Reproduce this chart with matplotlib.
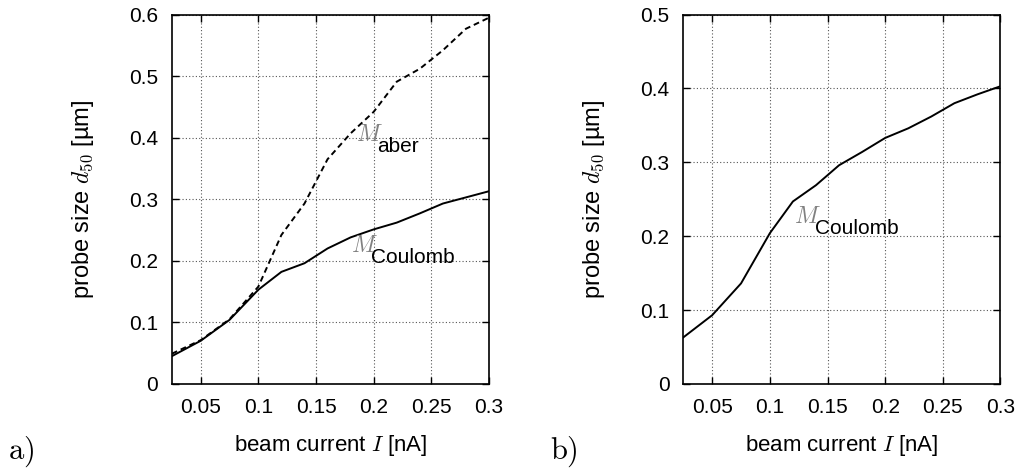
import matplotlib.pyplot as plt
import numpy as np

plt.rcParams['font.family'] = ['Liberation Sans', 'DejaVu Sans']
plt.rcParams['mathtext.fontset'] = 'cm'

# beam current I [nA]
current = [0.025, 0.05, 0.075, 0.1, 0.12, 0.14, 0.16, 0.18, 0.2, 0.22, 0.24, 0.26, 0.28, 0.3]

# panel a) probe size d50 [um]
coulomb_a = [0.045, 0.070, 0.104, 0.153, 0.182, 0.196, 0.220, 0.238, 0.251, 0.262, 0.277, 0.293, 0.303, 0.313]
aber_a = [0.049, 0.071, 0.105, 0.158, 0.242, 0.293, 0.365, 0.407, 0.442, 0.491, 0.512, 0.542, 0.577, 0.595]

# panel b) probe size d50 [um]
coulomb_b = [0.063, 0.093, 0.136, 0.204, 0.247, 0.269, 0.296, 0.314, 0.333, 0.346, 0.362, 0.380, 0.392, 0.403]

xticks = [0.05, 0.1, 0.15, 0.2, 0.25, 0.3]
xtick_labels = ['0.05', '0.1', '0.15', '0.2', '0.25', '0.3']

fig = plt.figure(figsize=(10.23, 4.71), dpi=100)
ax_a = fig.add_axes([0.168, 0.185, 0.310, 0.784])
ax_b = fig.add_axes([0.668, 0.185, 0.310, 0.784])


def style_axes(ax, ymax):
    ax.set_xlim(0.025, 0.3)
    ax.set_ylim(0, ymax)
    ax.set_xticks(xticks)
    ax.set_xticklabels(xtick_labels)
    yt = np.arange(0, ymax + 0.001, 0.1)
    ax.set_yticks(yt)
    ax.set_yticklabels(['%g' % round(v, 1) for v in yt])
    ax.tick_params(direction='in', length=5, width=1, labelsize=15, pad=10,
                   top=True, right=True)
    ax.grid(True, linestyle=(0, (1, 2)), color='#555555', linewidth=0.8)
    for s in ax.spines.values():
        s.set_linewidth(1.2)
    ax.set_xlabel('beam current $I$ [nA]', fontsize=16, labelpad=12)
    ax.set_ylabel('probe size $d_{50}$ [\u00b5m]', fontsize=17, labelpad=24)


def curve_label(ax, x, y, sub):
    ax.text(x, y, '$M$', color='#808080', fontsize=17, ha='left', va='center')
    ax.annotate(sub, (x, y), xytext=(15, -8), textcoords='offset points',
                fontsize=15, ha='left', va='center')


# panel a
ax_a.plot(current, coulomb_a, color='black', linewidth=1.4)
ax_a.plot(current, aber_a, color='black', linewidth=1.4, linestyle=(0, (3, 2)))
style_axes(ax_a, 0.6)
curve_label(ax_a, 0.185, 0.404, 'aber')
curve_label(ax_a, 0.180, 0.224, 'Coulomb')

# panel b
ax_b.plot(current, coulomb_b, color='black', linewidth=1.4)
style_axes(ax_b, 0.5)
curve_label(ax_b, 0.121, 0.226, 'Coulomb')

fig.text(0.008, 0.025, r'$\mathrm{a)}$', fontsize=22)
fig.text(0.538, 0.025, r'$\mathrm{b)}$', fontsize=22)

fig.savefig('out.png', dpi=100)
